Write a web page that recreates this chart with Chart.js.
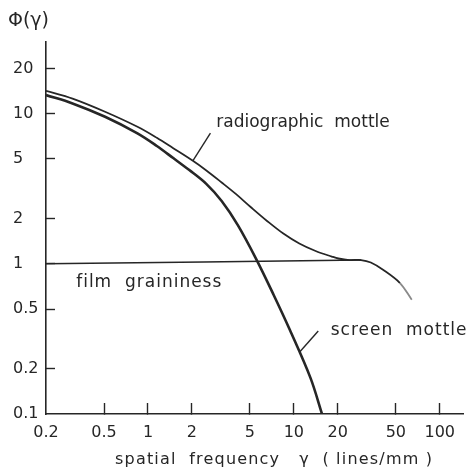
<!DOCTYPE html>
<html>
<head>
<meta charset="utf-8">
<script src="https://cdn.jsdelivr.net/npm/chart.js@4/dist/chart.umd.min.js"></script>
<style>
  html, body { margin: 0; padding: 0; background: #fff; }
  canvas { display: block; }
</style>
</head>
<body>
<canvas id="c" width="475" height="475"></canvas>
<script>
// Tick positions on the two logarithmic axes
const xTicks = [0.2, 0.5, 1, 2, 5, 10, 20, 50, 100];
const yTicks = [0.1, 0.2, 0.5, 1, 2, 5, 10, 20];

// Radiographic mottle: Wiener spectrum vs spatial frequency (lines/mm)
const radioFreq   = [0.2, 0.304, 0.508, 0.847, 1.15, 1.49, 2.02, 2.5, 3.2, 4.0, 5.08, 6.55, 8.47, 10.9, 14.1, 18.2, 20.2, 24.0, 28.9, 33.7, 41.1, 53.4, 64.3];
const radioMottle = [14.2, 12.6, 10.3, 8.18, 6.91, 5.89, 4.87, 4.20, 3.48, 2.92, 2.38, 1.93, 1.59, 1.365, 1.217, 1.118, 1.085, 1.06, 1.06, 1.02, 0.91, 0.745, 0.577];

// Screen mottle
const screenFreq   = [0.2, 0.304, 0.508, 0.847, 1.15, 1.49, 1.92, 2.5, 3.2, 4.13, 5.51, 7.26, 9.38, 13.0, 15.6];
const screenMottle = [13.3, 11.7, 9.53, 7.39, 6.09, 5.06, 4.21, 3.42, 2.62, 1.81, 1.08, 0.623, 0.364, 0.174, 0.1];

// Film graininess (nearly flat)
const filmFreq  = [0.2, 28.9];
const filmGrain = [1.0, 1.06];

const INK = '#262626';
const FONT = '"DejaVu Sans", "Liberation Sans", sans-serif';

const pts = (xs, ys) => xs.map((x, i) => ({ x: x, y: ys[i] }));

// Curve labels with leader lines, plus the axis titles
const notes = {
  id: 'notes',
  afterDraw(chart) {
    const { ctx } = chart;
    const sx = chart.scales.x, sy = chart.scales.y;
    const P = (fx, fy) => [sx.getPixelForValue(fx), sy.getPixelForValue(fy)];
    ctx.save();
    ctx.strokeStyle = INK;
    ctx.fillStyle = INK;
    ctx.lineWidth = 1.4;
    const leader = (a, b) => {
      const p = P(a[0], a[1]), q = P(b[0], b[1]);
      ctx.beginPath();
      ctx.moveTo(p[0], p[1]);
      ctx.lineTo(q[0], q[1]);
      ctx.stroke();
    };
    leader([2.03, 4.85], [2.68, 7.43]);
    leader([11.0, 0.26], [14.7, 0.357]);

    const label = (text, fx, fy, spacing) => {
      ctx.letterSpacing = spacing + 'px';
      const p = P(fx, fy);
      ctx.fillText(text, p[0], p[1]);
    };
    ctx.font = '17px ' + FONT;
    ctx.textAlign = 'left';
    ctx.textBaseline = 'middle';
    label('radiographic  mottle', 2.94, 8.66, 0);
    label('screen  mottle', 17.9, 0.357, 1);
    label('film  graininess', 0.322, 0.745, 1);

    ctx.letterSpacing = '0px';
    ctx.font = '19px ' + FONT;
    ctx.fillText('\u03A6(\u03B3)', 8, 21);
    ctx.font = '16px ' + FONT;
    ctx.letterSpacing = '1.2px';
    ctx.fillText('spatial  frequency   \u03B3  ( lines/mm )', 115, 460);
    ctx.restore();
  }
};

new Chart(document.getElementById('c'), {
  type: 'line',
  data: {
    datasets: [
      {
        label: 'radiographic mottle',
        data: pts(radioFreq, radioMottle),
        borderWidth: 1.8,
        segment: {
          borderColor: c => c.p1DataIndex >= radioFreq.length - 1 ? '#8a8a8a' : undefined
        }
      },
      {
        label: 'screen mottle',
        data: pts(screenFreq, screenMottle),
        borderWidth: 2.6
      },
      {
        label: 'film graininess',
        data: pts(filmFreq, filmGrain),
        borderWidth: 1.5
      }
    ]
  },
  options: {
    responsive: false,
    animation: false,
    devicePixelRatio: 1,
    layout: { padding: { left: 13, top: 42, right: 0, bottom: 0 } },
    plugins: { legend: { display: false }, tooltip: { enabled: false } },
    elements: {
      point: { radius: 0 },
      line: { borderColor: INK, tension: 0.35, fill: false }
    },
    scales: {
      x: {
        type: 'logarithmic',
        min: 0.2,
        max: 145,
        afterBuildTicks: s => { s.ticks = xTicks.map(v => ({ value: v })); },
        afterFit: s => { s.height = 61; },
        grid: {
          drawOnChartArea: false,
          drawTicks: true,
          tickLength: -11,
          tickWidth: 1.4,
          tickColor: c => (c.tick && c.tick.value === 0.2) ? 'rgba(0,0,0,0)' : INK
        },
        border: { color: INK, width: 1.6 },
        ticks: {
          autoSkip: false,
          maxRotation: 0,
          padding: 20,
          color: INK,
          font: { family: FONT, size: 16 },
          callback: v => String(v)
        }
      },
      y: {
        type: 'logarithmic',
        min: 0.1,
        max: 30,
        afterBuildTicks: s => { s.ticks = yTicks.map(v => ({ value: v })); },
        afterFit: s => { s.width = 33; },
        grid: {
          drawOnChartArea: false,
          drawTicks: true,
          tickLength: -9,
          tickWidth: 1.4,
          tickColor: c => (c.tick && c.tick.value === 0.1) ? 'rgba(0,0,0,0)' : INK
        },
        border: { color: INK, width: 1.6 },
        ticks: {
          autoSkip: false,
          crossAlign: 'far',
          padding: 10,
          color: INK,
          font: { family: FONT, size: 16 },
          callback: v => String(v)
        }
      }
    }
  },
  plugins: [notes]
});
</script>
</body>
</html>
